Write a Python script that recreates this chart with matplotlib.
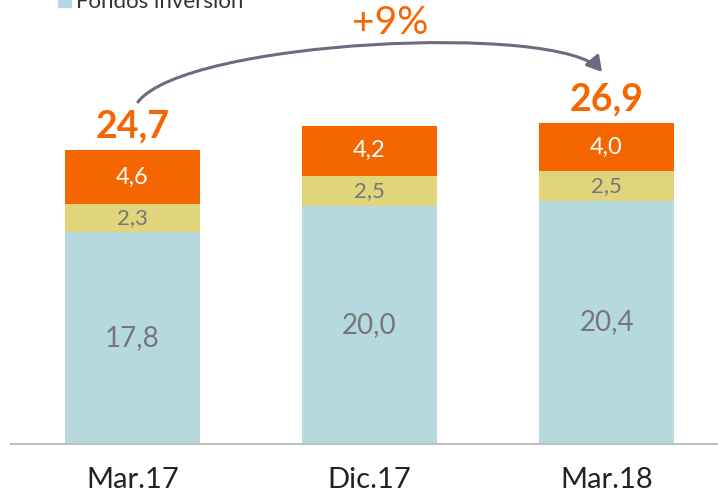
import matplotlib.pyplot as plt
from matplotlib.patches import FancyArrowPatch, Rectangle
from matplotlib.path import Path
import numpy as np

plt.rcParams['font.family'] = ['Lato', 'DejaVu Sans']

periods = ["Mar.17", "Dic.17", "Mar.18"]
fondos = [17.8, 20.0, 20.4]
planes = [2.3, 2.5, 2.5]
otros = [4.6, 4.2, 4.0]
totals = [24.7, 26.7, 26.9]
show_total = [True, False, True]
growth_label = "+9%"
legend_label = "Fondos inversión"

c_blue = "#B5D9DE"
c_yellow = "#E0D57A"
c_orange = "#F56600"
c_gray_txt = "#777777"


def fmt(v):
    return f"{v:.1f}".replace(".", ",")


fig = plt.figure(figsize=(7.18, 4.97), dpi=100)
ax = fig.add_axes([0, 0, 1, 1])
ax.set_xlim(-0.559, 2.470)
ax.set_ylim(-4.45, 37.25)
ax.axis("off")

x = np.arange(len(periods))
w = 0.57
ax.bar(x, fondos, w, color=c_blue, edgecolor="none")
ax.bar(x, planes, w, bottom=fondos, color=c_yellow, edgecolor="none")
bottom3 = np.array(fondos) + np.array(planes)
ax.bar(x, otros, w, bottom=bottom3, color=c_orange, edgecolor="none")

for i in range(len(periods)):
    ax.text(x[i], fondos[i] / 2, fmt(fondos[i]), ha="center", va="center",
            fontsize=20, color=c_gray_txt)
    ax.text(x[i], fondos[i] + planes[i] / 2, fmt(planes[i]), ha="center", va="center",
            fontsize=16, color=c_gray_txt)
    ax.text(x[i], bottom3[i] + otros[i] / 2, fmt(otros[i]), ha="center", va="center",
            fontsize=17, color="white")
    if show_total[i]:
        ax.text(x[i], totals[i] + 0.55, fmt(totals[i]), ha="center", va="bottom",
                fontsize=27, fontweight="bold", color=c_orange)
    ax.text(x[i], -3.0, periods[i], ha="center", va="center", fontsize=21, color="#222222")

# baseline
ax.plot([-0.517, 2.470], [0, 0], color="#BFBFBF", lw=1.5, solid_capstyle="butt")

# growth arrow (cubic curve from first to last total)
curve = Path([(0.023, 28.69), (0.2215, 33.89), (1.804, 35.40), (1.981, 31.21)],
             [Path.MOVETO, Path.CURVE4, Path.CURVE4, Path.CURVE4])
arr = FancyArrowPatch(path=curve, arrowstyle="-|>,head_length=6,head_width=3.5",
                      color="#6E6A80", lw=2.2, mutation_scale=1.5)
ax.add_patch(arr)
ax.text(1.087, 35.3, growth_label, ha="center", va="center", fontsize=28,
        color=c_orange)

# legend (cut at the top)
ax.add_patch(Rectangle((-0.314, 36.66), 0.055, 1.1, color=c_blue, clip_on=False))
ax.text(-0.238, 36.6, legend_label, ha="left", va="baseline", fontsize=16, color="#333333")

fig.savefig("out.png", dpi=100)
